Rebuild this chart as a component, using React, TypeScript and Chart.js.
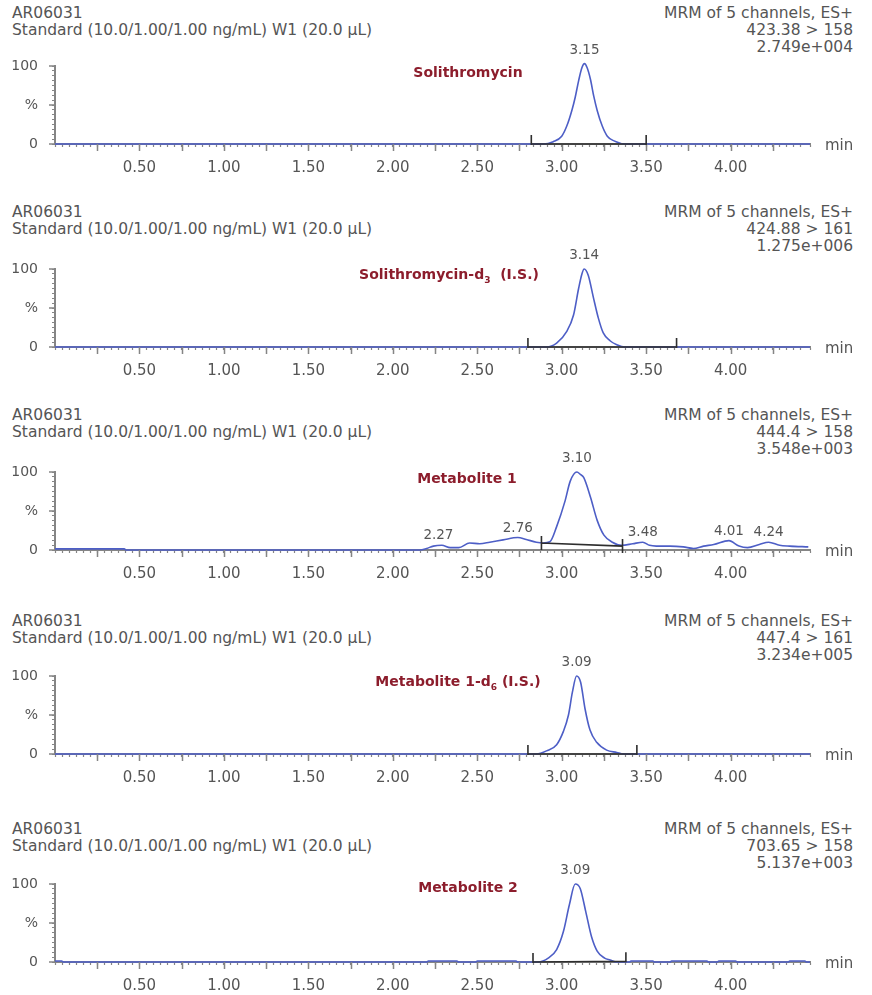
import React, { useEffect, useRef } from 'react';
import { Chart, registerables } from 'chart.js';

Chart.register(...registerables);

// ---------- shared texts / ticks ----------
const sampleId = 'AR06031';
const sampleDesc = 'Standard (10.0/1.00/1.00 ng/mL) W1 (20.0 µL)';
const channelHeader = 'MRM of 5 channels, ES+';
const xUnit = 'min';

const xTickValues = [0.5, 1.0, 1.5, 2.0, 2.5, 3.0, 3.5, 4.0];
const xTickLabels = ['0.50', '1.00', '1.50', '2.00', '2.50', '3.00', '3.50', '4.00'];
const yTickValues = [0, 50, 100];
const yTickLabels = ['0', '%', '100'];

// ---------- panel 1: Solithromycin ----------
const p1Times = [0, 2.89, 2.95, 3.0, 3.03, 3.06, 3.08, 3.1, 3.12, 3.135, 3.15, 3.17, 3.19, 3.21, 3.24, 3.27, 3.31, 3.38, 4.47];
const p1Values = [0, 0, 3, 10, 23, 43, 60, 81, 98, 103, 98, 83, 61, 43, 23, 10, 4, 0, 0];
const p1PeakTimes = [3.135];
const p1PeakLabels = ['3.15'];
const p1Integration = [2.82, 0, 3.5, 0];
const p1Transition = '423.38 > 158';
const p1Intensity = '2.749e+004';

// ---------- panel 2: Solithromycin-d3 ----------
const p2Times = [0, 2.91, 2.97, 3.03, 3.07, 3.1, 3.12, 3.133, 3.157, 3.187, 3.217, 3.246, 3.286, 3.326, 3.375, 4.47];
const p2Values = [0, 0, 5, 20, 41, 75, 94, 100, 92, 64, 37, 18, 8, 3, 0, 0];
const p2PeakTimes = [3.133];
const p2PeakLabels = ['3.14'];
const p2Integration = [2.8, 0, 3.68, 0];
const p2Transition = '424.88 > 161';
const p2Intensity = '1.275e+006';

// ---------- panel 3: Metabolite 1 ----------
const p3Times = [0, 0.41, 0.42, 2.16, 2.2, 2.24, 2.29, 2.34, 2.39, 2.455, 2.515, 2.574, 2.653, 2.74, 2.79, 2.85, 2.89, 2.93, 2.97, 3.02, 3.05, 3.09, 3.11, 3.13, 3.17, 3.21, 3.25, 3.3, 3.355, 3.42, 3.48, 3.52, 3.56, 3.64, 3.72, 3.78, 3.84, 3.9, 3.99, 4.05, 4.1, 4.17, 4.225, 4.29, 4.35, 4.46];
const p3Values = [1.5, 1.5, 0, 0, 2, 5, 6, 3, 3, 9, 8, 10, 13, 16, 13.5, 10, 9, 10.5, 30, 63, 88, 100, 97, 93, 68, 38, 19, 10, 6, 8, 10, 6, 5, 5, 4, 2, 5, 7, 12, 5, 3, 7, 10, 6, 5, 4];
const p3PeakTimes = [2.27, 2.74, 3.09, 3.48, 3.99, 4.225];
const p3PeakLabels = ['2.27', '2.76', '3.10', '3.48', '4.01', '4.24'];
const p3Integration = [2.88, 9, 3.36, 5];
const p3Transition = '444.4 > 158';
const p3Intensity = '3.548e+003';

// ---------- panel 4: Metabolite 1-d6 ----------
const p4Times = [0, 2.85, 2.91, 2.97, 3.01, 3.04, 3.063, 3.088, 3.112, 3.138, 3.167, 3.207, 3.266, 3.326, 3.365, 4.47];
const p4Values = [0, 0, 4, 12, 29, 50, 79, 100, 92, 58, 31, 15, 5, 2, 0, 0];
const p4PeakTimes = [3.088];
const p4PeakLabels = ['3.09'];
const p4Integration = [2.8, 0, 3.445, 0];
const p4Transition = '447.4 > 161';
const p4Intensity = '3.234e+005';

// ---------- panel 5: Metabolite 2 ----------
const p5Times = [0, 0.04, 0.05, 2.2, 2.21, 2.38, 2.39, 2.49, 2.5, 2.73, 2.74, 2.86, 2.92, 2.97, 3.01, 3.045, 3.08, 3.11, 3.143, 3.177, 3.21, 3.254, 3.287, 3.32, 3.4, 3.41, 3.54, 3.55, 3.64, 3.65, 3.86, 3.87, 3.92, 3.93, 4.03, 4.04, 4.34, 4.35, 4.44, 4.45, 4.47];
const p5Values = [1.2, 1.2, 0, 0, 1.2, 1.2, 0, 0, 1.2, 1.2, 0, 0, 5, 16, 39, 73, 100, 94, 64, 32, 14, 5, 2.5, 0, 0, 1.2, 1.2, 0, 0, 1.2, 1.2, 0, 0, 1.2, 1.2, 0, 0, 1.2, 1.2, 0, 0];
const p5PeakTimes = [3.08];
const p5PeakLabels = ['3.09'];
const p5Integration = [2.83, 0, 3.38, 1];
const p5Transition = '703.65 > 158';
const p5Intensity = '5.137e+003';

// ---------- styles ----------
const FONT = "'DejaVu Sans', sans-serif";
const AXIS_GRAY = '#858585';
const TEXT_GRAY = '#555555';
const TRACE_BLUE = '#4d5ec6';
const NAME_RED = '#8c1d2c';
const INTEG_COLOR = '#2e2e2e';

const X_MAX = 4.47;
const CANVAS_W = 872;
const CANVAS_H = 185;
const AXIS_BOTTOM = 144; // inside canvas
const AXIS_TOP = 66;
const AXIS_LEFT = 55;
const AXIS_RIGHT = 810;

type PanelData = {
  times: number[];
  values: number[];
  peakTimes: number[];
  peakLabels: string[];
  integration: number[];
  transition: string;
  intensity: string;
  name: React.ReactNode;
};

type PanelLayout = {
  zeroY: number;
  headY: number;
  nameX: number;
  nameY: number;
  tickUp: number;
  tickDown: number;
};

const sub = (s: string) => (
  <span style={{ fontSize: 9, position: 'relative', top: 4 }}>{s}</span>
);

const PANELS: PanelData[] = [
  { times: p1Times, values: p1Values, peakTimes: p1PeakTimes, peakLabels: p1PeakLabels, integration: p1Integration, transition: p1Transition, intensity: p1Intensity, name: <>Solithromycin</> },
  { times: p2Times, values: p2Values, peakTimes: p2PeakTimes, peakLabels: p2PeakLabels, integration: p2Integration, transition: p2Transition, intensity: p2Intensity, name: <>Solithromycin-d{sub('3')}&nbsp; (I.S.)</> },
  { times: p3Times, values: p3Values, peakTimes: p3PeakTimes, peakLabels: p3PeakLabels, integration: p3Integration, transition: p3Transition, intensity: p3Intensity, name: <>Metabolite 1</> },
  { times: p4Times, values: p4Values, peakTimes: p4PeakTimes, peakLabels: p4PeakLabels, integration: p4Integration, transition: p4Transition, intensity: p4Intensity, name: <>Metabolite 1-d{sub('6')} (I.S.)</> },
  { times: p5Times, values: p5Values, peakTimes: p5PeakTimes, peakLabels: p5PeakLabels, integration: p5Integration, transition: p5Transition, intensity: p5Intensity, name: <>Metabolite 2</> },
];

const LAYOUTS: PanelLayout[] = [
  { zeroY: 144, headY: 13, nameX: 468, nameY: 72, tickUp: 9, tickDown: 1 },
  { zeroY: 347, headY: 212, nameX: 449, nameY: 275, tickUp: 9, tickDown: 1 },
  { zeroY: 550, headY: 415, nameX: 467, nameY: 478, tickUp: 7, tickDown: 7 },
  { zeroY: 754, headY: 621, nameX: 458, nameY: 682, tickUp: 9, tickDown: 1 },
  { zeroY: 962, headY: 829, nameX: 468, nameY: 887, tickUp: 9, tickDown: 1 },
];

function makeMarksPlugin(data: PanelData, layout: PanelLayout) {
  return {
    id: 'marks',
    afterDatasetsDraw(chart: any) {
      const { ctx, chartArea } = chart;
      const x = chart.scales.x;
      const y = chart.scales.y;
      ctx.save();
      // longer major ticks on x (every 0.25 min)
      ctx.strokeStyle = AXIS_GRAY;
      ctx.lineWidth = 1.5;
      ctx.beginPath();
      for (let k = 1; k * 0.25 < X_MAX; k++) {
        const px = Math.round(x.getPixelForValue(k * 0.25)) + 0.5;
        ctx.moveTo(px, chartArea.bottom);
        ctx.lineTo(px, chartArea.bottom + 7);
      }
      // longer major ticks on y
      yTickValues.forEach((v) => {
        const py = y.getPixelForValue(v);
        ctx.moveTo(chartArea.left - 6, py);
        ctx.lineTo(chartArea.left, py);
      });
      ctx.stroke();

      // integration baseline
      const [t0, v0, t1, v1] = data.integration;
      const x0 = x.getPixelForValue(t0);
      const y0 = y.getPixelForValue(v0);
      const x1 = x.getPixelForValue(t1);
      const y1 = y.getPixelForValue(v1);
      ctx.strokeStyle = INTEG_COLOR;
      ctx.lineWidth = 1.6;
      ctx.beginPath();
      ctx.moveTo(x0, y0);
      ctx.lineTo(x1, y1);
      ctx.moveTo(x0, y0 - layout.tickUp);
      ctx.lineTo(x0, y0 + layout.tickDown);
      ctx.moveTo(x1, y1 - layout.tickUp);
      ctx.lineTo(x1, y1 + layout.tickDown);
      ctx.stroke();

      // peak labels
      ctx.fillStyle = TEXT_GRAY;
      ctx.font = `13.5px ${FONT}`;
      ctx.textAlign = 'center';
      ctx.textBaseline = 'alphabetic';
      data.peakTimes.forEach((t, i) => {
        let vmax = 0;
        data.times.forEach((tt, j) => {
          if (Math.abs(tt - t) <= 0.03 && data.values[j] > vmax) vmax = data.values[j];
        });
        const px = x.getPixelForValue(t);
        const py = y.getPixelForValue(vmax);
        const lift = vmax > 50 ? 10 : 6;
        ctx.fillText(data.peakLabels[i], px, py - lift);
      });
      ctx.restore();
    },
  };
}

function Panel({ data, layout }: { data: PanelData; layout: PanelLayout }) {
  const ref = useRef<HTMLCanvasElement>(null);

  useEffect(() => {
    if (!ref.current) return;
    const chart = new Chart(ref.current, {
      type: 'line',
      data: {
        datasets: [
          {
            data: data.times.map((t, i) => ({ x: t, y: data.values[i] })),
            borderColor: TRACE_BLUE,
            borderWidth: 1.6,
            pointRadius: 0,
            cubicInterpolationMode: 'monotone',
            fill: false,
            clip: false,
          } as any,
        ],
      },
      options: {
        animation: false,
        responsive: false,
        maintainAspectRatio: false,
        events: [],
        layout: {
          padding: {
            top: AXIS_TOP,
            left: 0,
            right: CANVAS_W - AXIS_RIGHT,
            bottom: CANVAS_H - AXIS_BOTTOM - 30,
          },
        },
        plugins: {
          legend: { display: false },
          tooltip: { enabled: false },
          title: { display: false },
        },
        scales: {
          x: {
            type: 'linear',
            min: 0,
            max: X_MAX,
            border: { display: true, color: AXIS_GRAY, width: 2 },
            grid: {
              drawOnChartArea: false,
              drawTicks: true,
              tickLength: 3,
              tickColor: AXIS_GRAY,
              tickWidth: 1.2,
            },
            ticks: {
              stepSize: 1 / 24,
              autoSkip: false,
              maxRotation: 0,
              minRotation: 0,
              padding: 12,
              color: TEXT_GRAY,
              font: { family: FONT, size: 15 },
              callback: (value: any) => {
                const i = xTickValues.findIndex((t) => Math.abs(t - Number(value)) < 1e-6);
                return i >= 0 ? xTickLabels[i] : '';
              },
            },
            afterFit: (scale: any) => {
              scale.height = 30;
            },
          },
          y: {
            type: 'linear',
            min: 0,
            max: 100,
            border: { display: true, color: AXIS_GRAY, width: 2 },
            grid: {
              drawOnChartArea: false,
              drawTicks: true,
              tickLength: 3,
              tickColor: AXIS_GRAY,
              tickWidth: 1.2,
            },
            ticks: {
              stepSize: 6.25,
              autoSkip: false,
              padding: 14,
              color: TEXT_GRAY,
              font: { family: FONT, size: 14 },
              callback: (value: any) => {
                const i = yTickValues.findIndex((t) => Math.abs(t - Number(value)) < 1e-6);
                return i >= 0 ? yTickLabels[i] : '';
              },
            },
            afterFit: (scale: any) => {
              scale.width = AXIS_LEFT;
            },
          },
        },
      } as any,
      plugins: [makeMarksPlugin(data, layout)],
    });
    return () => chart.destroy();
  }, [data, layout]);

  const top = layout.zeroY - AXIS_BOTTOM;
  const lineH = 16.8;
  return (
    <>
      <div
        style={{
          position: 'absolute',
          left: 12,
          top: layout.headY - 8,
          fontSize: 15.5,
          lineHeight: `${lineH}px`,
          color: TEXT_GRAY,
          whiteSpace: 'nowrap',
        }}
      >
        <div>{sampleId}</div>
        <div>{sampleDesc}</div>
      </div>
      <div
        style={{
          position: 'absolute',
          right: CANVAS_W - 853,
          top: layout.headY - 8,
          fontSize: 15.5,
          lineHeight: `${lineH}px`,
          color: TEXT_GRAY,
          textAlign: 'right',
          whiteSpace: 'nowrap',
        }}
      >
        <div>{channelHeader}</div>
        <div>{data.transition}</div>
        <div>{data.intensity}</div>
      </div>
      <canvas
        ref={ref}
        width={CANVAS_W}
        height={CANVAS_H}
        style={{ position: 'absolute', left: 0, top, width: CANVAS_W, height: CANVAS_H }}
      />
      <div
        style={{
          position: 'absolute',
          left: layout.nameX,
          top: layout.nameY,
          transform: 'translate(-50%, -50%)',
          fontSize: 14,
          fontWeight: 'bold',
          lineHeight: '14px',
          color: NAME_RED,
          whiteSpace: 'nowrap',
        }}
      >
        {data.name}
      </div>
      <div
        style={{
          position: 'absolute',
          left: 825,
          top: layout.zeroY + 1 - 8,
          fontSize: 15,
          lineHeight: `${lineH}px`,
          color: TEXT_GRAY,
        }}
      >
        {xUnit}
      </div>
    </>
  );
}

export default function App() {
  return (
    <div
      style={{
        position: 'absolute',
        left: 0,
        top: 0,
        width: 872,
        height: 995,
        overflow: 'hidden',
        background: '#ffffff',
        fontFamily: FONT,
      }}
    >
      {PANELS.map((p, i) => (
        <Panel key={i} data={p} layout={LAYOUTS[i]} />
      ))}
    </div>
  );
}
